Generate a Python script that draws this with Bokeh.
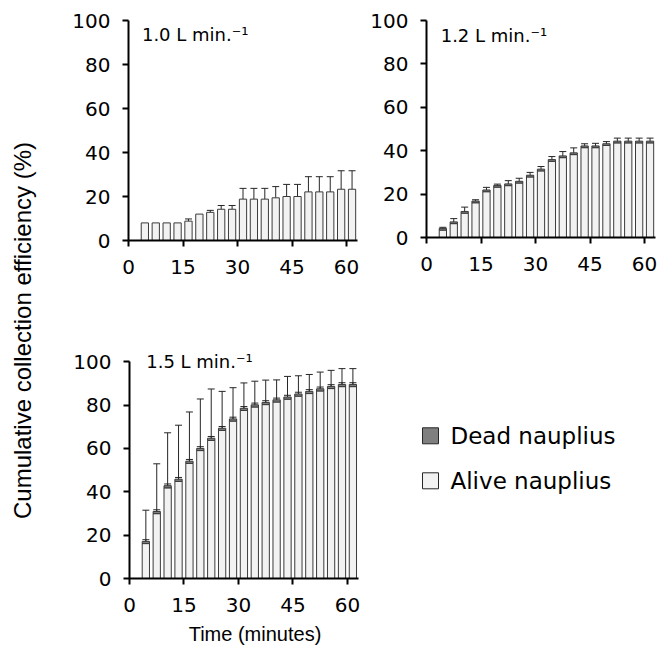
import math
from bokeh.plotting import figure
from bokeh.layouts import row, column
from bokeh.models import (ColumnDataSource, Range1d, FixedTicker, Whisker, TeeHead,
                          Label, BoxAnnotation)
from bokeh.embed import file_html
from bokeh.resources import INLINE

# ---------------- data ----------------
times = [3, 6, 9, 12, 15, 18, 21, 24, 27, 30, 33, 36, 39, 42, 45, 48, 51, 54, 57, 60]
x_ticks = [0, 15, 30, 45, 60]
y_ticks = [0, 20, 40, 60, 80, 100]

# 1.0 L/min
alive_10 = [8.0, 8.0, 8.0, 8.0, 8.8, 12.0, 12.8, 14.2, 14.2, 18.8, 18.8, 18.8, 19.4, 20.0, 20.0, 22.1, 22.1, 22.1, 23.3, 23.3]
dead_10 = [0, 0, 0, 0, 0, 0, 0, 0, 0, 0, 0, 0, 0, 0, 0, 0, 0, 0, 0, 0]
err_alive_10 = [0, 0, 0, 0, 1.0, 0, 0.9, 1.7, 1.7, 4.9, 4.9, 4.9, 5.1, 5.5, 5.5, 6.9, 6.9, 6.9, 8.4, 8.4]
err_dead_10 = [0, 0, 0, 0, 0, 0, 0, 0, 0, 0, 0, 0, 0, 0, 0, 0, 0, 0, 0, 0]

# 1.2 L/min
alive_12 = [3.4, 6.4, 11.2, 16.0, 21.1, 23.2, 23.9, 25.1, 27.9, 30.7, 35.1, 36.8, 38.2, 41.4, 41.4, 42.4, 43.6, 43.6, 43.6, 43.6]
dead_12 = [0.8, 0.8, 0.8, 0.8, 0.8, 0.8, 0.8, 0.8, 0.8, 0.8, 0.8, 0.8, 0.8, 0.8, 0.8, 0.8, 0.8, 0.8, 0.8, 0.8]
err_alive_12 = [0, 0, 0, 0, 0, 0, 0, 0, 0, 0, 0, 0, 0, 0, 0, 0, 0, 0, 0, 0]
err_dead_12 = [0.5, 1.5, 2.0, 0.6, 1.2, 0.6, 1.5, 1.4, 1.3, 1.2, 1.4, 2.0, 2.3, 1.0, 1.2, 1.0, 1.4, 1.4, 1.4, 1.4]

# 1.5 L/min
alive_15 = [16.1, 29.9, 41.8, 44.8, 53.1, 59.0, 63.7, 68.3, 72.6, 77.5, 79.1, 80.2, 81.4, 82.7, 84.1, 85.3, 86.5, 87.6, 88.5, 88.5]
dead_15 = [1.0, 1.0, 1.0, 1.0, 1.0, 1.0, 1.0, 1.0, 1.0, 1.0, 1.0, 1.0, 1.0, 1.0, 1.0, 1.0, 1.0, 1.0, 1.0, 1.0]
err_alive_15 = [14.4, 22.0, 24.4, 24.9, 22.7, 22.8, 22.7, 17.0, 14.4, 11.7, 10.9, 10.3, 9.2, 9.5, 8.4, 7.8, 7.7, 7.4, 7.3, 7.3]
err_dead_15 = [0.8, 0.8, 0.8, 0.8, 0.8, 0.8, 0.8, 0.8, 0.8, 0.8, 0.8, 0.8, 0.8, 0.8, 0.8, 0.8, 0.8, 0.8, 0.8, 0.8]

panel_titles = ["1.0 L min.\u207b\u00b9", "1.2 L min.\u207b\u00b9", "1.5 L min.\u207b\u00b9"]
legend_labels = ["Dead nauplius", "Alive nauplius"]
y_title = "Cumulative collection efficiency (%)"
x_title = "Time (minutes)"

# ---------------- style ----------------
ALIVE_FILL = "#f2f2f2"
DEAD_FILL = "#7f7f7f"
EDGE = "#3a3a3a"
ERR = "#262626"
SLOT_OFFSET = 1.5
BAR_W = 2.0
TICK_FONT = "DejaVu Sans"
TICK_SIZE = "20px"
TITLE_FONT = "Liberation Sans"


def make_panel(alive, dead, err_up, err_pm, title, tx, ty, bl, br, bt, bb, fw, fh, xmax, ymax):
    p = figure(frame_width=fw, frame_height=fh,
               min_border_left=bl, min_border_right=br, min_border_top=bt, min_border_bottom=bb,
               x_range=Range1d(0, xmax), y_range=Range1d(0, ymax),
               output_backend="svg", toolbar_location=None, tools="")
    x = [t + SLOT_OFFSET for t in times]
    total = [a + d for a, d in zip(alive, dead)]
    src = ColumnDataSource(dict(x=x, alive=alive, total=total))
    p.vbar(x="x", bottom=0, top="alive", width=BAR_W, source=src,
           fill_color=ALIVE_FILL, line_color=EDGE, line_width=1)
    di = [i for i, d in enumerate(dead) if d > 0]
    if di:
        dsrc = ColumnDataSource(dict(x=[x[i] for i in di], b=[alive[i] for i in di],
                                     t=[total[i] for i in di]))
        p.vbar(x="x", bottom="b", top="t", width=BAR_W, source=dsrc,
               fill_color=DEAD_FILL, line_color=EDGE, line_width=1)
    ui = [i for i, e in enumerate(err_up) if e > 0]
    if ui:
        usrc = ColumnDataSource(dict(x=[x[i] for i in ui], lo=[total[i] for i in ui],
                                     hi=[total[i] + err_up[i] for i in ui]))
        p.add_layout(Whisker(source=usrc, base="x", lower="lo", upper="hi",
                             line_color=ERR, line_width=1,
                             upper_head=TeeHead(size=7, line_color=ERR, line_width=1),
                             lower_head=None))
    pi = [i for i, e in enumerate(err_pm) if e > 0]
    if pi:
        psrc = ColumnDataSource(dict(x=[x[i] for i in pi], lo=[total[i] - err_pm[i] for i in pi],
                                     hi=[total[i] + err_pm[i] for i in pi]))
        p.add_layout(Whisker(source=psrc, base="x", lower="lo", upper="hi",
                             line_color=ERR, line_width=1,
                             upper_head=TeeHead(size=7, line_color=ERR, line_width=1),
                             lower_head=TeeHead(size=7, line_color=ERR, line_width=1)))
    p.xaxis.ticker = FixedTicker(ticks=x_ticks)
    p.yaxis.ticker = FixedTicker(ticks=y_ticks)
    p.xaxis.bounds = (0, 63)
    p.yaxis.bounds = (0, 100)
    for ax in (p.xaxis[0], p.yaxis[0]):
        ax.axis_line_width = 2
        ax.axis_line_color = "#000000"
        ax.major_tick_line_width = 2
        ax.major_tick_line_color = "#000000"
        ax.major_tick_out = 6
        ax.major_tick_in = 0
        ax.minor_tick_out = 0
        ax.minor_tick_in = 0
        ax.major_label_text_font = TICK_FONT
        ax.major_label_text_font_size = TICK_SIZE
        ax.major_label_text_color = "#000000"
    p.xaxis.major_label_standoff = 13
    p.yaxis.major_label_standoff = 12
    p.grid.visible = False
    p.outline_line_color = None
    p.add_layout(Label(x=tx, y=ty, text=title, text_font=TICK_FONT, text_font_size="18px",
                       text_align="left", text_baseline="middle", text_color="#000000"))
    return p


p1 = make_panel(alive_10, dead_10, err_alive_10, err_dead_10, panel_titles[0], 3.7, 93.5,
                83, 5, 20, 70, 229, 220, 63, 100)
p2 = make_panel(alive_12, dead_12, err_alive_12, err_dead_12, panel_titles[1], 3.9, 93.1,
                64, 8, 20, 73, 229, 217, 63, 100)
# bottom panel: frame widened to the right and upward so the panel note and the
# axis title sit where the reference has them; axis lines are bounded to 0-63 / 0-100
p3 = make_panel(alive_15, dead_15, err_alive_15, err_dead_15, panel_titles[2], 4.6, 100.3,
                84, 5, 36, 83, 251, 232, 69.1, 107)
p3.xaxis.axis_label = x_title
p3.xaxis.axis_label_text_font = TITLE_FONT
p3.xaxis.axis_label_text_font_size = "20px"
p3.xaxis.axis_label_text_font_style = "normal"
p3.xaxis.axis_label_text_color = "#000000"
p3.xaxis.axis_label_standoff = 8

# y title strip
yt = figure(width=45, height=661, x_range=Range1d(0, 45), y_range=Range1d(0, 661), min_border=0,
            x_axis_location=None, y_axis_location=None, outline_line_color=None,
            toolbar_location=None, tools="", output_backend="svg")
yt.grid.visible = False
yt.add_layout(Label(x=22, y=331, text=y_title, angle=math.pi / 2, text_font=TITLE_FONT,
                    text_font_size="24px", text_align="center", text_baseline="middle",
                    text_color="#000000"))

# legend panel: same vertical borders as the bottom panel (frames are aligned in a row);
# ranges in pixels, origin at the frame's bottom-left
lf = figure(frame_width=278, frame_height=232, x_range=Range1d(0, 278), y_range=Range1d(0, 232),
            min_border_left=0, min_border_right=0, min_border_top=36, min_border_bottom=83,
            x_axis_location=None, y_axis_location=None, outline_line_color=None,
            toolbar_location=None, tools="", output_backend="svg")
lf.grid.visible = False
SW_L, SW_R = 37, 53
LEG_ROWS = [(150.7, 134.7, 142.7, DEAD_FILL, legend_labels[0]),
            (105.7, 89.7, 97.7, ALIVE_FILL, legend_labels[1])]
for top, bottom, mid, fill, text in LEG_ROWS:
    lf.add_layout(BoxAnnotation(left=SW_L, right=SW_R, top=top, bottom=bottom,
                                fill_color=fill, fill_alpha=1, line_color="#262626",
                                line_width=1, line_alpha=1))
    lf.add_layout(Label(x=65, y=mid, text=text, text_font=TICK_FONT, text_font_size="23px",
                        text_align="left", text_baseline="middle", text_color="#000000"))

layout = row(yt, column(row(p1, p2), row(p3, lf)))
open("out.html", "w").write(file_html(layout, INLINE))
